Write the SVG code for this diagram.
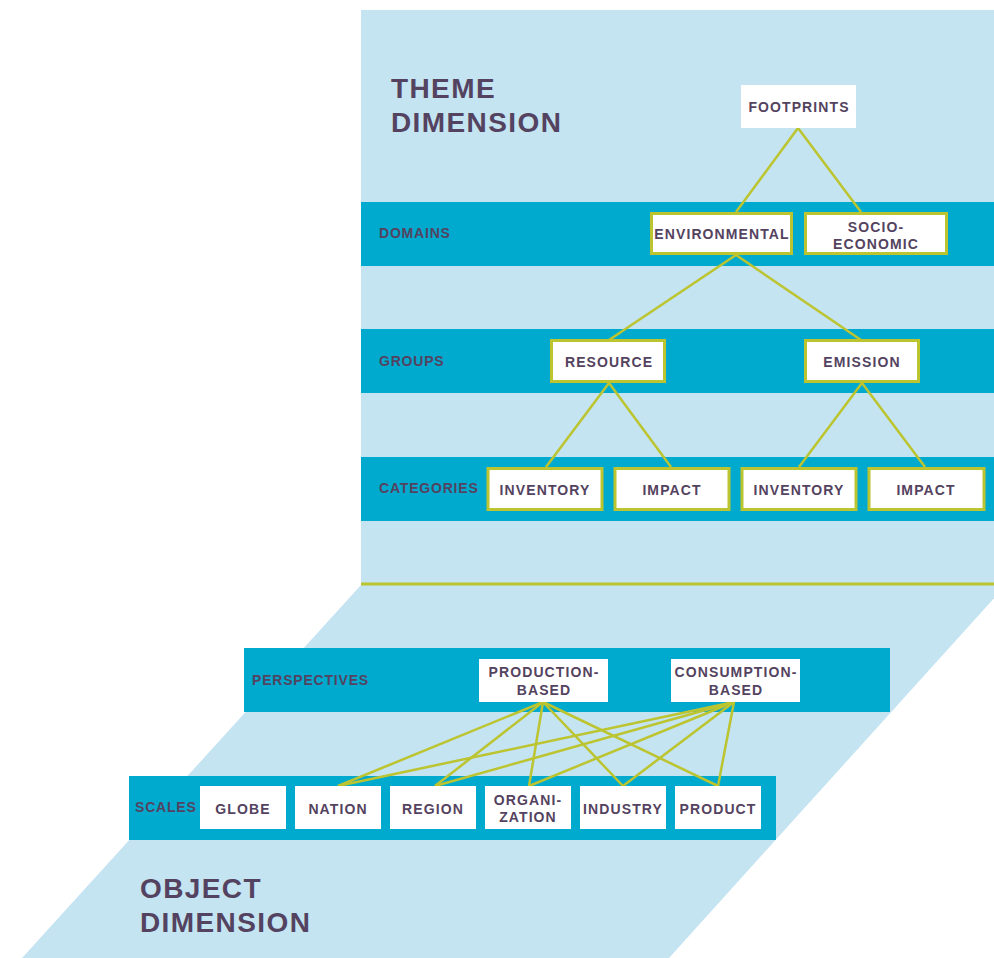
<svg xmlns="http://www.w3.org/2000/svg" width="994" height="958" viewBox="0 0 994 958">
<style>
.bg{fill:#C4E4F2}
.band{fill:#00AACF}
.title{font-family:"Liberation Sans",Arial,sans-serif;font-weight:bold;font-size:28px;fill:#544360;letter-spacing:1.4px}
.lab{font-family:"Liberation Sans",Arial,sans-serif;font-weight:bold;font-size:14px;fill:#544360;letter-spacing:0.8px}
.nt{font-family:"Liberation Sans",Arial,sans-serif;font-weight:bold;font-size:14px;fill:#544360;letter-spacing:1.1px;text-anchor:middle}
.box{fill:#FFFFFF}
.bbox{fill:#FFFFFF;stroke:#BCC42F;stroke-width:3}
.con line{stroke:#BCC42F;stroke-width:2.5;fill:none}
</style>
<rect width="994" height="958" fill="#FFFFFF"/>
<g id="object-plane">
<polygon class="bg" points="361,585 1006,585 669,958 22,958"/>
<rect class="band" x="244" y="648" width="646" height="64"/>
<rect class="band" x="129" y="776" width="647" height="64"/>
</g>
<g id="theme-plane">
<rect class="bg" x="361" y="10" width="633" height="575"/>
<rect class="band" x="361" y="202" width="633" height="64"/>
<rect class="band" x="361" y="329" width="633" height="64"/>
<rect class="band" x="361" y="457" width="633" height="64"/>
<line x1="361" y1="584" x2="994" y2="584" stroke="#BCC42F" stroke-width="3"/>
</g>
<g id="labels">
<text class="title" x="391" y="98">THEME</text>
<text class="title" x="391" y="132">DIMENSION</text>
<text class="lab" x="379" y="238">DOMAINS</text>
<text class="lab" x="379" y="366">GROUPS</text>
<text class="lab" x="379" y="493">CATEGORIES</text>
<text class="lab" x="252" y="685">PERSPECTIVES</text>
<text class="lab" x="135" y="812">SCALES</text>
<text class="title" x="140" y="898">OBJECT</text>
<text class="title" x="140" y="932">DIMENSION</text>
</g>
<g id="connectors" class="con">
<line x1="798" y1="128" x2="736" y2="212"/>
<line x1="798" y1="128" x2="861" y2="212"/>
<line x1="736" y1="255" x2="609" y2="340"/>
<line x1="736" y1="255" x2="861" y2="340"/>
<line x1="609" y1="383" x2="546" y2="467"/>
<line x1="609" y1="383" x2="671" y2="467"/>
<line x1="862" y1="383" x2="799" y2="467"/>
<line x1="862" y1="383" x2="925" y2="467"/>
<line x1="543" y1="702" x2="338" y2="786"/>
<line x1="543" y1="702" x2="435" y2="786"/>
<line x1="543" y1="702" x2="529" y2="786"/>
<line x1="543" y1="702" x2="623" y2="786"/>
<line x1="543" y1="702" x2="718" y2="786"/>
<line x1="734" y1="702" x2="338" y2="786"/>
<line x1="734" y1="702" x2="435" y2="786"/>
<line x1="734" y1="702" x2="529" y2="786"/>
<line x1="734" y1="702" x2="623" y2="786"/>
<line x1="734" y1="702" x2="718" y2="786"/>
</g>
<g id="footprints"><rect class="box" x="741" y="85" width="115" height="43"/><text class="nt" x="799" y="112">FOOTPRINTS</text></g>
<g id="environmental"><rect class="bbox" x="651.5" y="213.5" width="140" height="40"/><text class="nt" x="722" y="239">ENVIRONMENTAL</text></g>
<g id="socio-economic"><rect class="bbox" x="805.5" y="213.5" width="141" height="40"/><text class="nt" x="876" y="232">SOCIO-</text><text class="nt" x="876" y="249">ECONOMIC</text></g>
<g id="resource"><rect class="bbox" x="551.5" y="340.5" width="113" height="41"/><text class="nt" x="609" y="367">RESOURCE</text></g>
<g id="emission"><rect class="bbox" x="805.5" y="340.5" width="113" height="41"/><text class="nt" x="862" y="367">EMISSION</text></g>
<g id="inventory-1"><rect class="bbox" x="488" y="468.5" width="114" height="41"/><text class="nt" x="545" y="495">INVENTORY</text></g>
<g id="impact-1"><rect class="bbox" x="615" y="468.5" width="114" height="41"/><text class="nt" x="672" y="495">IMPACT</text></g>
<g id="inventory-2"><rect class="bbox" x="742" y="468.5" width="114" height="41"/><text class="nt" x="799" y="495">INVENTORY</text></g>
<g id="impact-2"><rect class="bbox" x="869" y="468.5" width="115" height="41"/><text class="nt" x="926" y="495">IMPACT</text></g>
<g id="production-based"><rect class="box" x="479" y="659" width="129" height="43"/><text class="nt" x="544" y="677">PRODUCTION-</text><text class="nt" x="544" y="695">BASED</text></g>
<g id="consumption-based"><rect class="box" x="671" y="659" width="129" height="43"/><text class="nt" x="736" y="677">CONSUMPTION-</text><text class="nt" x="736" y="695">BASED</text></g>
<g id="globe"><rect class="box" x="200" y="786" width="86" height="43"/><text class="nt" x="243" y="814">GLOBE</text></g>
<g id="nation"><rect class="box" x="295" y="786" width="86" height="43"/><text class="nt" x="338" y="814">NATION</text></g>
<g id="region"><rect class="box" x="390" y="786" width="86" height="43"/><text class="nt" x="433" y="814">REGION</text></g>
<g id="organization"><rect class="box" x="485" y="786" width="86" height="43"/><text class="nt" x="528" y="805">ORGANI-</text><text class="nt" x="528" y="822">ZATION</text></g>
<g id="industry"><rect class="box" x="580" y="786" width="86" height="43"/><text class="nt" x="623" y="814">INDUSTRY</text></g>
<g id="product"><rect class="box" x="675" y="786" width="86" height="43"/><text class="nt" x="718" y="814">PRODUCT</text></g>
</svg>
